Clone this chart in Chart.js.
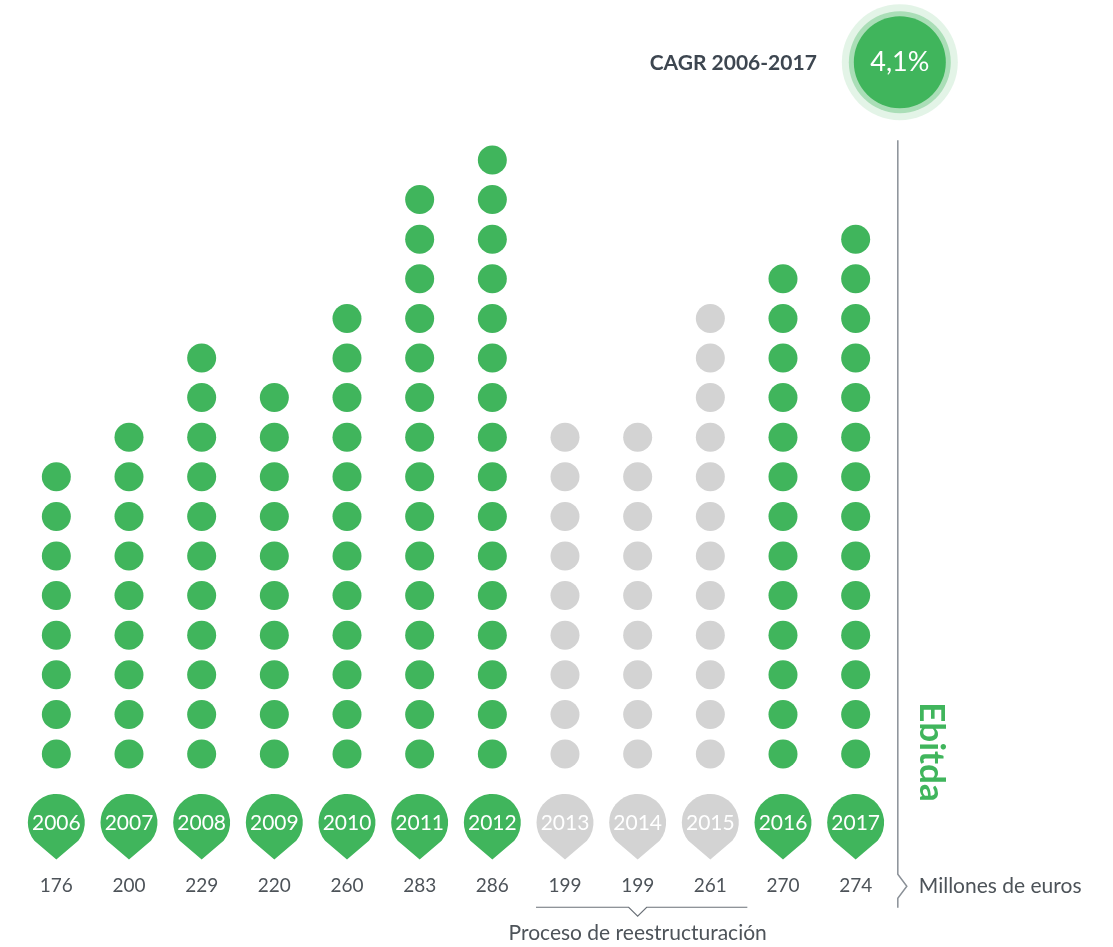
<!DOCTYPE html>
<html lang="es">
<head>
  <meta charset="UTF-8" />
  <title>Ebitda 2006-2017</title>
  <script src="https://cdn.jsdelivr.net/npm/chart.js"></script>
  <style>
    html, body { margin: 0; padding: 0; background: #fff; overflow: hidden; }
    canvas { display: block; }
  </style>
</head>
<body>
  <canvas id="ebitdaChart" width="1113" height="947"></canvas>

  <script>
    // data
    const years = ['2006','2007','2008','2009','2010','2011','2012','2013','2014','2015','2016','2017'];
    const ebitda = [176, 200, 229, 220, 260, 283, 286, 199, 199, 261, 270, 274];
    const dotCounts = [8, 9, 11, 10, 12, 15, 16, 9, 9, 12, 13, 14];
    const restructuring = [false, false, false, false, false, false, false, true, true, true, false, false];
    const cagrLabel = 'CAGR 2006-2017';
    const cagrValue = '4,1%';

    const GREEN = '#40b55c';
    const GREY = '#d3d3d3';
    const TEXT = '#4d5359';
    const FONT = 'Lato, "Open Sans", sans-serif';

    const greenDots = [], greyDots = [];
    years.forEach((y, i) => {
      for (let k = 0; k < dotCounts[i]; k++) {
        (restructuring[i] ? greyDots : greenDots).push({ x: i, y: k });
      }
    });

    const extras = {
      id: 'extras',
      afterDatasetsDraw(chart) {
        const ctx = chart.ctx;
        const xs = chart.scales.x, ys = chart.scales.y;
        ctx.save();

        // pins with year + value under them
        years.forEach((yr, i) => {
          const cx = xs.getPixelForValue(i);
          const cy = ys.getPixelForValue(-1.73);
          const r = 28.5;
          ctx.fillStyle = restructuring[i] ? GREY : GREEN;
          ctx.beginPath();
          ctx.arc(cx, cy, r, Math.PI * 0.22, Math.PI * 0.78, true);
          ctx.lineTo(cx, cy + 37);
          ctx.closePath();
          ctx.fill();
          ctx.fillStyle = '#fff';
          ctx.font = '21px ' + FONT;
          ctx.textAlign = 'center';
          ctx.textBaseline = 'middle';
          ctx.fillText(yr, cx, cy + 1);

          ctx.fillStyle = TEXT;
          ctx.font = '19px ' + FONT;
          ctx.fillText(String(ebitda[i]), cx, ys.getPixelForValue(-3.34));
        });

        // bracket under the restructuring years
        const idx = restructuring.map((r, i) => r ? i : -1).filter(i => i >= 0);
        const bx0 = xs.getPixelForValue(idx[0]) - 29;
        const bx1 = xs.getPixelForValue(idx[idx.length - 1]) + 37;
        const bmid = xs.getPixelForValue((idx[0] + idx[idx.length - 1]) / 2);
        const by = ys.getPixelForValue(-3.87);
        ctx.strokeStyle = '#6b7178';
        ctx.lineWidth = 1.2;
        ctx.beginPath();
        ctx.moveTo(bx0, by);
        ctx.lineTo(bmid - 9, by);
        ctx.lineTo(bmid, by + 9);
        ctx.lineTo(bmid + 9, by);
        ctx.lineTo(bx1, by);
        ctx.stroke();
        ctx.fillStyle = TEXT;
        ctx.font = '21px ' + FONT;
        ctx.fillText('Proceso de reestructuración', bmid, ys.getPixelForValue(-4.52));

        // vertical rule with chevron
        const vx = xs.getPixelForValue(11.58);
        const cy2 = ys.getPixelForValue(-3.34);
        ctx.strokeStyle = '#8a9097';
        ctx.lineWidth = 1.5;
        ctx.beginPath();
        ctx.moveTo(vx, ys.getPixelForValue(15.5));
        ctx.lineTo(vx, cy2 - 12);
        ctx.lineTo(vx + 9, cy2);
        ctx.lineTo(vx, cy2 + 12);
        ctx.lineTo(vx, ys.getPixelForValue(-3.88));
        ctx.stroke();
        ctx.fillStyle = TEXT;
        ctx.textAlign = 'left';
        ctx.font = '21px ' + FONT;
        ctx.fillText('Millones de euros', vx + 21, cy2);

        // Ebitda title, rotated
        ctx.save();
        ctx.translate(vx + 33, ys.getPixelForValue(0.05));
        ctx.rotate(Math.PI / 2);
        ctx.fillStyle = GREEN;
        ctx.font = 'bold 35px ' + FONT;
        ctx.textAlign = 'center';
        ctx.textBaseline = 'middle';
        ctx.fillText('Ebitda', 0, 0);
        ctx.restore();

        // CAGR badge
        const gx = vx + 2, gy = ys.getPixelForValue(17.47);
        ctx.fillStyle = 'rgba(64,181,92,0.15)';
        ctx.beginPath(); ctx.arc(gx, gy, 58, 0, Math.PI * 2); ctx.fill();
        ctx.fillStyle = 'rgba(64,181,92,0.35)';
        ctx.beginPath(); ctx.arc(gx, gy, 51, 0, Math.PI * 2); ctx.fill();
        ctx.fillStyle = GREEN;
        ctx.beginPath(); ctx.arc(gx, gy, 46, 0, Math.PI * 2); ctx.fill();
        ctx.fillStyle = '#fff';
        ctx.font = '27px ' + FONT;
        ctx.textAlign = 'center';
        ctx.fillText(cagrValue, gx, gy);
        ctx.fillStyle = '#3d4650';
        ctx.font = 'bold 21px ' + FONT;
        ctx.textAlign = 'right';
        ctx.fillText(cagrLabel, gx - 83, gy + 1);

        ctx.restore();
      }
    };

    new Chart(document.getElementById('ebitdaChart'), {
      type: 'scatter',
      data: {
        datasets: [
          { label: 'Ebitda', data: greenDots, backgroundColor: GREEN, pointRadius: 14.5, borderWidth: 0 },
          { label: 'Reestructuración', data: greyDots, backgroundColor: GREY, pointRadius: 14.5, borderWidth: 0 }
        ]
      },
      options: {
        responsive: false,
        animation: false,
        events: [],
        layout: { autoPadding: false, padding: { left: 20, right: 221, top: 0, bottom: 0 } },
        scales: {
          x: { type: 'linear', min: -0.5, max: 11.5, display: false },
          y: { type: 'linear', min: -4.874, max: 19.04, display: false }
        },
        plugins: {
          legend: { display: false },
          tooltip: { enabled: false }
        }
      },
      plugins: [extras]
    });
  </script>
</body>
</html>
